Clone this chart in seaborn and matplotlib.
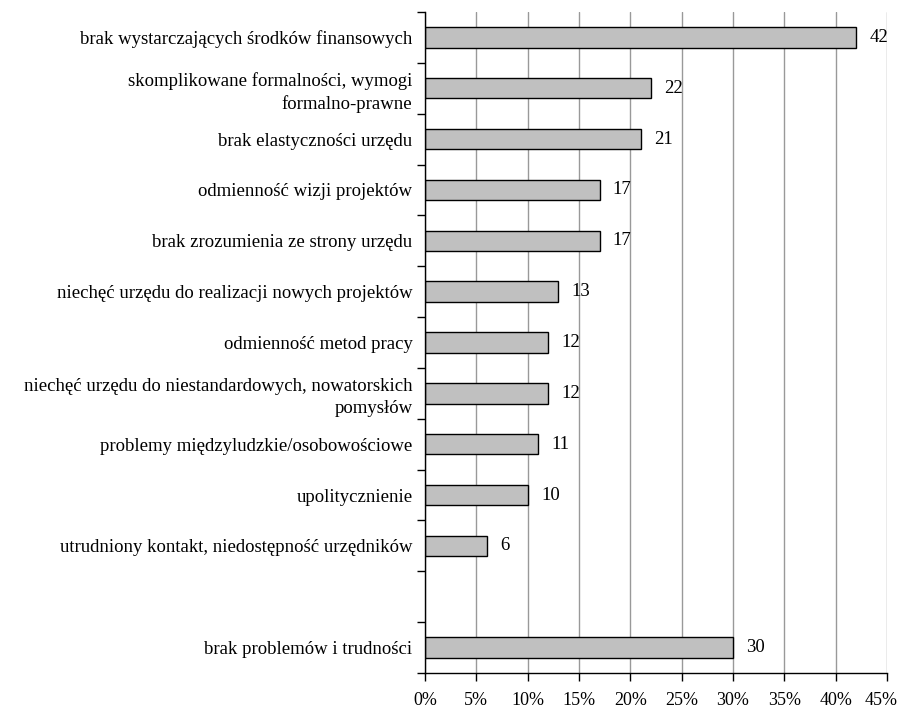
import matplotlib
matplotlib.use("Agg")
import matplotlib.pyplot as plt
import matplotlib.transforms as mtransforms
import seaborn as sns
import pandas as pd
import numpy as np

categories = [
    "brak wystarczających środków finansowych",
    "skomplikowane formalności, wymogi\nformalno-prawne",
    "brak elastyczności urzędu",
    "odmienność wizji projektów",
    "brak zrozumienia ze strony urzędu",
    "niechęć urzędu do realizacji nowych projektów",
    "odmienność metod pracy",
    "niechęć urzędu do niestandardowych, nowatorskich\npomysłów",
    "problemy międzyludzkie/osobowościowe",
    "upolitycznienie",
    "utrudniony kontakt, niedostępność urzędników",
    "",
    "brak problemów i trudności",
]
values = [42, 22, 21, 17, 17, 13, 12, 12, 11, 10, 6, None, 30]
xticks = [0, 5, 10, 15, 20, 25, 30, 35, 40, 45]

sns.set_style("white")
plt.rcParams["font.family"] = ["Liberation Serif", "DejaVu Serif"]

df = pd.DataFrame({"cat": categories, "val": values}).dropna()

FS = 13.5

fig = plt.figure(figsize=(9, 7.11), dpi=100)
ax = fig.add_axes([425/900, 1 - 673/711, (887 - 425)/900, (673 - 12)/711])

ax.set_axisbelow(True)
ax.grid(axis="x", color="#999999", linewidth=1)
ax.grid(axis="y", visible=False)

sns.barplot(data=df, y="cat", x="val", order=categories, orient="h",
            color="#c0c0c0", edgecolor="black", linewidth=1, width=0.4,
            saturation=1, ax=ax)

for i, (c, v) in enumerate(zip(categories, values)):
    if v is not None:
        ax.text(v + 1.3, i, f"{v}", va="center", ha="left", fontsize=FS, color="black")

ax.set_xlim(0, 45)
ax.set_ylim(len(categories) - 0.5, -0.5)
ax.set_xticks(xticks)
ax.set_xticklabels([f"{t}%" for t in xticks], fontsize=13, color="black")
ax.set_yticks(range(len(categories)))
ax.set_yticklabels(categories, fontsize=FS, multialignment="right", linespacing=1.35, color="black")
ax.set_yticks(np.arange(-0.5, len(categories), 1), minor=True)
ax.tick_params(axis="y", which="major", length=0, pad=9)
ax.tick_params(axis="y", which="minor", length=6, width=1, color="black", direction="out", left=True)
ax.tick_params(axis="x", which="major", length=6, width=1, color="black", direction="out", bottom=True, pad=8)
ax.set_xlabel("")
ax.set_ylabel("")

last = ax.get_xticklabels()[-1]
last.set_transform(last.get_transform() + mtransforms.ScaledTranslation(-4/72, 0, fig.dpi_scale_trans))

for s in ["top", "right"]:
    ax.spines[s].set_visible(False)
for s in ["left", "bottom"]:
    ax.spines[s].set_color("black")
    ax.spines[s].set_linewidth(1)

fig.savefig("out.png", dpi=100)
